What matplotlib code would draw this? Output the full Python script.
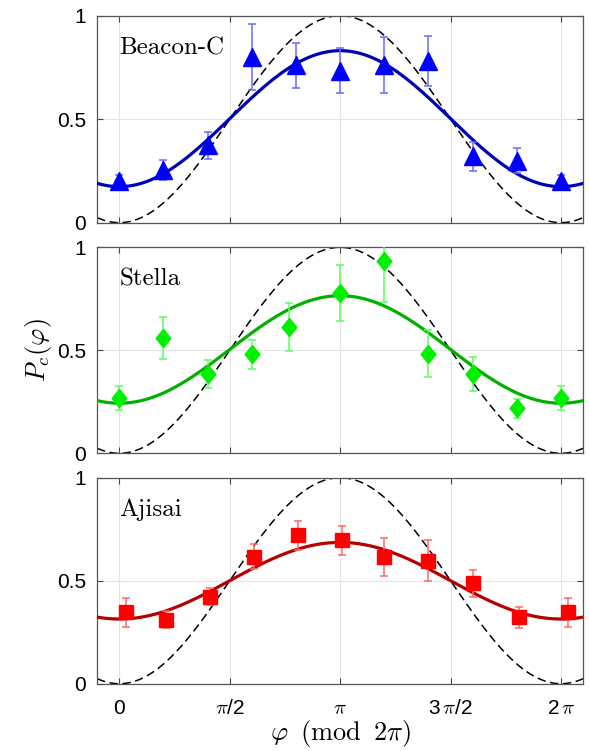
import numpy as np
import matplotlib.pyplot as plt

plt.rcParams['mathtext.fontset'] = 'cm'
plt.rcParams['font.family'] = ['Liberation Sans', 'DejaVu Sans']

# --- data (phase in units of pi) ---
names = ["Beacon-C", "Stella", "Ajisai"]

beacon_x = [0.0, 0.2, 0.4, 0.6, 0.8, 1.0, 1.2, 1.4, 1.6, 1.8, 2.0]
beacon_y = [0.20, 0.255, 0.375, 0.80, 0.76, 0.735, 0.762, 0.78, 0.32, 0.30, 0.20]
beacon_e = [0.03, 0.05, 0.065, 0.16, 0.11, 0.11, 0.135, 0.12, 0.07, 0.06, 0.03]

stella_x = [0.0, 0.2, 0.4, 0.6, 0.77, 1.0, 1.2, 1.4, 1.6, 1.8, 2.0]
stella_y = [0.27, 0.56, 0.385, 0.48, 0.614, 0.777, 0.935, 0.484, 0.385, 0.218, 0.27]
stella_e = [0.058, 0.10, 0.07, 0.07, 0.117, 0.135, 0.20, 0.115, 0.081, 0.048, 0.058]

ajisai_x = [0.03, 0.21, 0.41, 0.61, 0.81, 1.01, 1.2, 1.4, 1.6, 1.81, 2.03]
ajisai_y = [0.346, 0.311, 0.423, 0.616, 0.72, 0.697, 0.615, 0.598, 0.487, 0.323, 0.346]
ajisai_e = [0.069, 0.042, 0.043, 0.061, 0.07, 0.07, 0.091, 0.10, 0.065, 0.051, 0.069]

# fitted curves: offset - amplitude*cos(phi)
fit_offset = [0.5025, 0.504, 0.50]
fit_amp = [0.3285, 0.261, 0.186]

xs = [beacon_x, stella_x, ajisai_x]
ys = [beacon_y, stella_y, ajisai_y]
es = [beacon_e, stella_e, ajisai_e]

markers = ['^', [(0, 1), (0.82, 0), (0, -1), (-0.82, 0), (0, 1)], 's']
msizes = [12.5, 13, 10]
mcolors = ['#0000ff', '#00f000', '#ff0000']
ecolors = ['#6a6aff', '#5cff5c', '#ff6a6a']
lcolors = ['#0000b4', '#00b000', '#b40000']

fig = plt.figure(figsize=(5.89, 7.51), dpi=100)
bottoms = [0.7035, 0.3964, 0.0896]
heights = [0.2756, 0.2743, 0.2743]

phi = np.linspace(-0.1 * np.pi, 2.1 * np.pi, 400)

for i in range(3):
    ax = fig.add_axes([0.165, bottoms[i], 0.825, heights[i]])
    ax.plot(phi, (1 - np.cos(phi)) / 2, color='k', lw=1.1, ls=(0, (5.5, 3)), zorder=2)
    ax.plot(phi, fit_offset[i] - fit_amp[i] * np.cos(phi), color=lcolors[i], lw=2.3, zorder=3)
    xx = np.array(xs[i]) * np.pi
    ax.errorbar(xx, ys[i], yerr=es[i], fmt='none', ecolor=ecolors[i], elinewidth=1.1,
                capsize=3, capthick=1.1, zorder=4)
    ax.plot(xx, ys[i], ls='none', marker=markers[i], ms=msizes[i], color=mcolors[i],
            mec=mcolors[i], zorder=5)

    ax.set_xlim(-0.1 * np.pi, 2.1 * np.pi)
    ax.set_ylim(0, 1)
    ax.set_xticks(np.array([0, 0.5, 1, 1.5, 2]) * np.pi)
    ax.set_yticks([0, 0.5, 1])
    ax.set_yticklabels(['0', '0.5', '1'])
    if i == 2:
        ax.set_xticklabels(['0', r'$\pi$/2', r'$\pi$', r'3$\,\pi$/2', r'2$\,\pi$'])
    else:
        ax.set_xticklabels([])
    ax.grid(True, color='#e3e3e3', lw=0.8)
    ax.set_axisbelow(True)
    ax.tick_params(direction='in', top=True, right=True, length=4, width=0.8,
                   color='#444444', labelsize=15)
    ax.tick_params(axis='x', pad=11)
    ax.tick_params(axis='y', pad=8)
    for s in ax.spines.values():
        s.set_color('#555555')
        s.set_linewidth(0.9)
    ax.text(0, 0.813, names[i], family='cmr10', fontsize=18, va='baseline', ha='left')
    if i == 1:
        ax.set_ylabel(r'$P_c(\varphi)$', fontsize=19, labelpad=2)
    if i == 2:
        ax.set_xlabel(r'$\varphi\;\;(\mathrm{mod}\;\;2\pi)$', fontsize=19, labelpad=0)

fig.savefig('out.png', dpi=100)
